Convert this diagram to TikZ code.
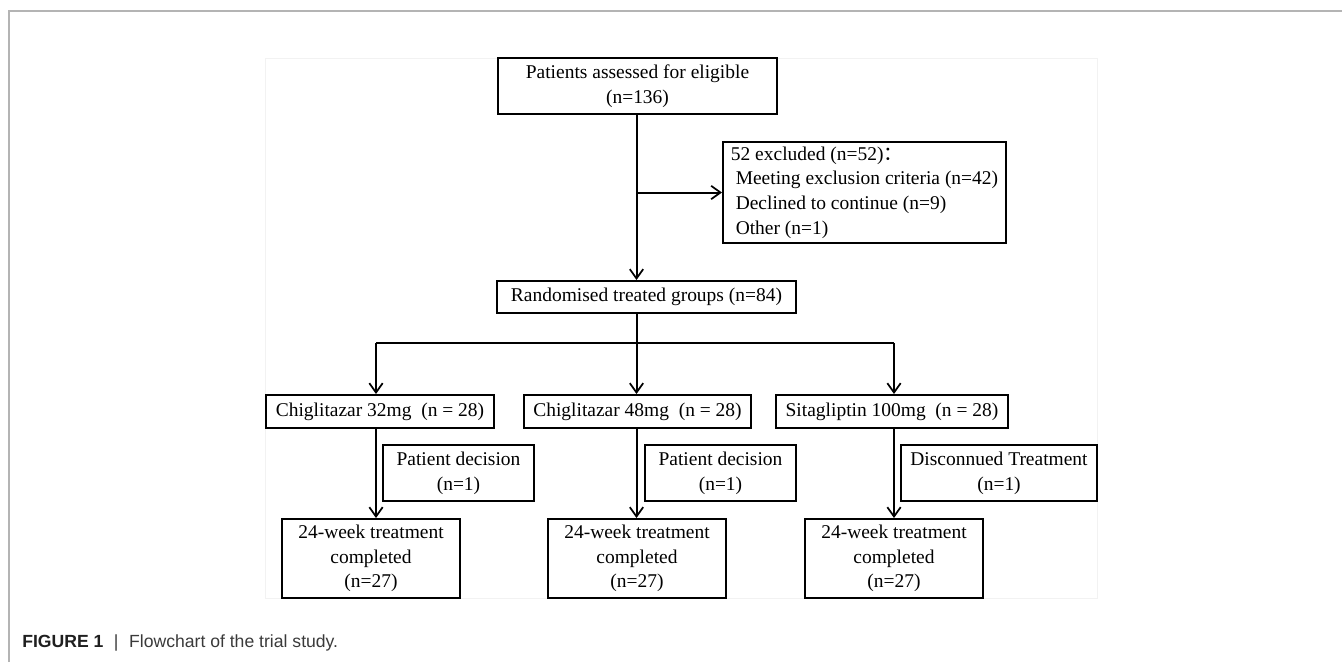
\documentclass[tikz,border=0pt]{standalone}
\usepackage{fontspec}
\setmainfont{Liberation Serif}
\setsansfont{Liberation Sans}
\newfontfamily\cjkfont{Noto Sans CJK SC}
\usetikzlibrary{arrows.meta}
\definecolor{framegray}{HTML}{B4B4B4}
\definecolor{faintgray}{HTML}{F2F2F2}
\definecolor{capgray}{HTML}{3A3A3A}
\tikzset{
  box/.style={draw=black, line width=1.5pt, inner sep=0pt, align=center,
    font=\fontsize{14.6}{18.5}\selectfont},
  conn/.style={line width=1.5pt, draw=black},
  arr/.style={conn, -{Straight Barb[length=7pt,width=10pt,line width=1.3pt]}},
}
\begin{document}
\begin{tikzpicture}[x=0.75pt,y=-0.75pt]
\useasboundingbox (0,0) rectangle (1342,662);
% page frame
\draw[framegray, line width=0.9pt] (9,662) -- (9,11) -- (1342,11);
\draw[faintgray, line width=0.6pt] (265,58) rectangle (1097,598);
% nodes
\node[box, minimum width=279*0.75pt, minimum height=56*0.75pt] (top) at (637.5,86)
  {Patients assessed for eligible\\(n=136)};
\node[box, minimum width=283*0.75pt, minimum height=101*0.75pt, align=left] (excl) at (864.5,192.5)
  {52 excluded (n=52){\cjkfont ：}\\
   \hspace*{0.25em}Meeting exclusion criteria (n=42)\\
   \hspace*{0.25em}Declined to continue (n=9)\\
   \hspace*{0.25em}Other (n=1)};
\node[box, minimum width=299*0.75pt, minimum height=32*0.75pt] (rand) at (646.5,297)
  {Randomised treated groups (n=84)};
\node[box, minimum width=228*0.75pt, minimum height=33*0.75pt] (g1) at (380,411.5)
  {Chiglitazar 32mg\ \ (n = 28)};
\node[box, minimum width=227*0.75pt, minimum height=33*0.75pt] (g2) at (637.5,411.5)
  {Chiglitazar 48mg\ \ (n = 28)};
\node[box, minimum width=232*0.75pt, minimum height=33*0.75pt] (g3) at (892,411.5)
  {Sitagliptin 100mg\ \ (n = 28)};
\node[box, minimum width=151*0.75pt, minimum height=56*0.75pt] (d1) at (458.5,473)
  {Patient decision\\(n=1)};
\node[box, minimum width=151*0.75pt, minimum height=56*0.75pt] (d2) at (720.5,473)
  {Patient decision\\(n=1)};
\node[box, minimum width=196*0.75pt, minimum height=56*0.75pt] (d3) at (999,473)
  {Disconnued Treatment\\(n=1)};
\node[box, minimum width=178*0.75pt, minimum height=79*0.75pt] (c1) at (371,558.5)
  {24-week treatment\\completed\\(n=27)};
\node[box, minimum width=178*0.75pt, minimum height=79*0.75pt] (c2) at (637,558.5)
  {24-week treatment\\completed\\(n=27)};
\node[box, minimum width=178*0.75pt, minimum height=79*0.75pt] (c3) at (894,558.5)
  {24-week treatment\\completed\\(n=27)};
% branch coordinates
\coordinate (b1) at (376,343);
\coordinate (b2) at (636.5,343);
\coordinate (b3) at (894,343);
% connectors
\draw[arr] (b2 |- top.south) -- (b2 |- rand.north);
\draw[arr] (b2 |- excl.west) -- (excl.west);
\draw[conn] (b2 |- rand.south) -- (b2);
\draw[conn] (b1) -- (b3);
\draw[arr] (b1) -- (b1 |- g1.north);
\draw[arr] (b2) -- (b2 |- g2.north);
\draw[arr] (b3) -- (b3 |- g3.north);
\draw[arr] (b1 |- g1.south) -- (b1 |- c1.north);
\draw[arr] (b2 |- g2.south) -- (b2 |- c2.north);
\draw[arr] (b3 |- g3.south) -- (b3 |- c3.north);
% caption
\node[anchor=west, inner sep=0pt, font=\sffamily\fontsize{13.2}{15}\selectfont] (cap) at (22,643)
  {\textcolor{black!88}{\textbf{FIGURE 1}}\hspace{0.6em}\textcolor{capgray}{|\hspace{0.6em}Flowchart of the trial study.}};
\end{tikzpicture}
\end{document}
